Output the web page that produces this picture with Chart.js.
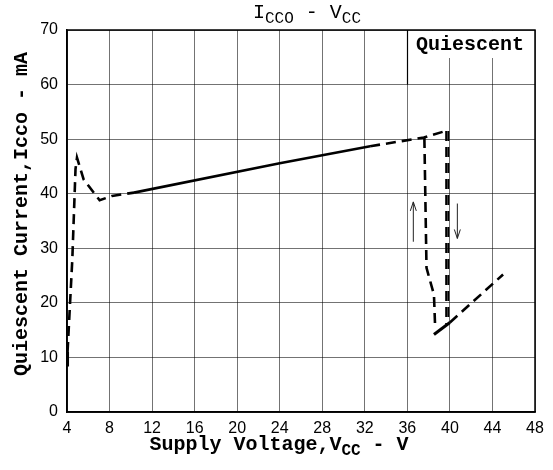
<!DOCTYPE html>
<html>
<head>
<meta charset="utf-8">
<script src="https://cdn.jsdelivr.net/npm/chart.js@4/dist/chart.umd.min.js"></script>
<style>
  html, body { margin: 0; padding: 0; background: #fff; }
  #wrap { width: 553px; height: 470px; position: relative; }
</style>
</head>
<body>
<div id="wrap"><canvas id="iccChart" width="553" height="470"></canvas></div>
<script>
// axis ticks
const xTicks = [4, 8, 12, 16, 20, 24, 28, 32, 36, 40, 44, 48];
const yTicks = [0, 10, 20, 30, 40, 50, 60, 70];

// curve pieces (V, mA)
const startV = [4.0, 4.05];
const startI = [8.6, 11.0];
const riseV = [4.05, 4.5, 4.8, 4.94, 5.57, 7.07, 8.23, 10.3];
const riseI = [11.0, 28.0, 44.5, 46.6, 42.6, 38.8, 39.6, 40.2];
const midV = [10.3, 24, 32.5];
const midI = [40.2, 45.6, 48.7];
const topV = [32.5, 37.55, 39.6];
const topI = [48.7, 50.3, 51.5];
const upBranchV = [37.6, 37.8, 38.5, 38.6];
const upBranchI = [50.2, 26.4, 21.5, 16.1];
const downBranchAV = [39.65, 39.65];
const downBranchBV = [39.85, 39.85];
const downBranchI = [51.5, 16.1];
const bottomV = [38.5, 40.0];
const bottomI = [14.2, 16.4];
const tailV = [40.0, 45.0];
const tailI = [16.4, 25.2];

// arrows: [V, from mA, to mA]
const arrowUp = [36.56, 31.2, 38.5];
const arrowDown = [40.7, 38.2, 31.8];

function pts(xs, ys) {
    return xs.map((x, i) => ({ x: x, y: ys[i] }));
}

const DASH = [10, 6];
function piece(xs, ys, dashed, w) {
    return {
        data: pts(xs, ys),
        borderColor: '#000',
        borderWidth: w || 2.6,
        borderDash: dashed ? DASH : [],
        pointRadius: 0,
        fill: false,
        tension: 0
    };
}

const MONO = "'Liberation Mono', 'DejaVu Sans Mono', monospace";

// draw a string made of normal and subscript parts
function drawParts(ctx, parts, cx, cy, size, subSize, weight) {
    let total = 0;
    parts.forEach(p => {
        ctx.font = weight + ' ' + (p[1] ? subSize : size) + 'px ' + MONO;
        total += ctx.measureText(p[0]).width;
    });
    let x = cx - total / 2;
    ctx.textAlign = 'left';
    ctx.textBaseline = 'middle';
    parts.forEach(p => {
        ctx.font = weight + ' ' + (p[1] ? subSize : size) + 'px ' + MONO;
        ctx.fillText(p[0], x, cy + (p[1] ? size * 0.28 : 0));
        x += ctx.measureText(p[0]).width;
    });
}

function drawArrow(ctx, sx, sy, x, from, to) {
    const px = sx.getPixelForValue(x);
    const y1 = sy.getPixelForValue(from);
    const y2 = sy.getPixelForValue(to);
    const dir = y2 < y1 ? 1 : -1;
    ctx.save();
    ctx.strokeStyle = '#222';
    ctx.lineWidth = 1;
    ctx.beginPath();
    ctx.moveTo(px, y1);
    ctx.lineTo(px, y2);
    ctx.moveTo(px - 3, y2 + dir * 9);
    ctx.lineTo(px, y2);
    ctx.lineTo(px + 3, y2 + dir * 9);
    ctx.stroke();
    ctx.restore();
}

const decor = {
    id: 'decor',
    beforeDatasetsDraw(chart) {
        const ctx = chart.ctx;
        const a = chart.chartArea;
        const sy = chart.scales.y;
        ctx.save();
        // quiescent box
        ctx.fillStyle = '#fff';
        ctx.fillRect(408, a.top + 1, a.right - 409, 27);
        ctx.strokeStyle = '#000';
        ctx.lineWidth = 1.2;
        ctx.beginPath();
        ctx.moveTo(407.5, a.top);
        ctx.lineTo(407.5, sy.getPixelForValue(60));
        ctx.stroke();
        // frame
        ctx.lineWidth = 1.5;
        ctx.strokeRect(a.left, a.top, a.right - a.left, a.bottom - a.top);
        ctx.fillStyle = '#000';
        ctx.font = 'bold 20px ' + MONO;
        ctx.textAlign = 'left';
        ctx.textBaseline = 'middle';
        ctx.fillText('Quiescent', 416, 45);
        ctx.restore();
    },
    afterDraw(chart) {
        const ctx = chart.ctx;
        const sx = chart.scales.x, sy = chart.scales.y;
        ctx.save();
        ctx.fillStyle = '#000';
        drawParts(ctx, [['I', false], ['CCO', true], [' - V', false], ['CC', true]], 307, 13, 20, 16, 'normal');
        drawParts(ctx, [['Supply Voltage,V', false], ['CC', true], [' - V', false]], 279, 445, 20, 16, 'bold');
        ctx.translate(22, 214);
        ctx.rotate(-Math.PI / 2);
        ctx.font = 'bold 20px ' + MONO;
        ctx.textAlign = 'center';
        ctx.textBaseline = 'middle';
        ctx.fillText('Quiescent Current,Icco - mA', 0, 0);
        ctx.restore();
        drawArrow(ctx, sx, sy, arrowUp[0], arrowUp[1], arrowUp[2]);
        drawArrow(ctx, sx, sy, arrowDown[0], arrowDown[1], arrowDown[2]);
    }
};

//eslint-disable-next-line
const iccChart = new Chart(document.getElementById('iccChart'), {
    type: 'line',
    data: {
        datasets: [
            piece(startV, startI, false, 3),
            piece(riseV, riseI, true),
            piece(midV, midI, false),
            piece(topV, topI, true),
            piece(upBranchV, upBranchI, true),
            piece(downBranchAV, downBranchI, true, 2),
            piece(downBranchBV, downBranchI, true, 2),
            piece(bottomV, bottomI, false, 3),
            piece(tailV, tailI, true)
        ]
    },
    options: {
        responsive: false,
        animation: false,
        layout: { padding: { left: 0, top: 30, right: 18, bottom: 0 } },
        plugins: { legend: { display: false }, tooltip: { enabled: false } },
        scales: {
            x: {
                type: 'linear',
                min: xTicks[0],
                max: xTicks[xTicks.length - 1],
                afterBuildTicks: s => { s.ticks = xTicks.map(v => ({ value: v })); },
                afterFit: s => { s.height = 58; },
                grid: { color: 'rgba(0,0,0,0.55)', lineWidth: 1, drawTicks: false },
                border: { display: true, color: '#000', width: 1.5 },
                ticks: { color: '#000', padding: 7, maxRotation: 0, font: { family: "'Liberation Sans', sans-serif", size: 16 } }
            },
            y: {
                min: yTicks[0],
                max: yTicks[yTicks.length - 1],
                afterBuildTicks: s => { s.ticks = yTicks.map(v => ({ value: v })); },
                afterFit: s => { s.width = 67; },
                grid: { color: 'rgba(0,0,0,0.55)', lineWidth: 1, drawTicks: false },
                border: { display: true, color: '#000', width: 1.5 },
                ticks: { color: '#000', padding: 9, font: { family: "'Liberation Sans', sans-serif", size: 16 } }
            }
        }
    },
    plugins: [decor]
});
</script>
</body>
</html>
